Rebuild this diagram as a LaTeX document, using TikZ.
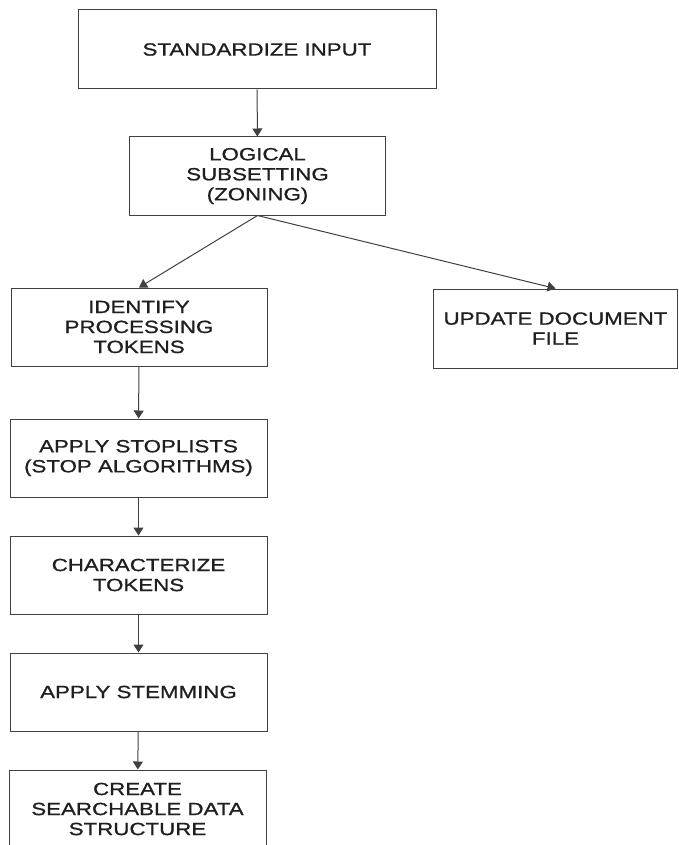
\documentclass[tikz,border=0pt]{standalone}
\usepackage{fontspec}
\setmainfont{Liberation Sans}[FakeStretch=1.26,FakeBold=0.9]
\usetikzlibrary{arrows.meta}

\begin{document}
\begin{tikzpicture}[x=1pt, y=-1pt, >={Triangle[length=8pt,width=10pt]},
  box/.style={draw=black!75, line width=1pt, text=black!88, minimum width=257pt,
    minimum height=78pt, align=center, inner sep=0pt,
    font=\fontsize{17.7}{20}\selectfont}]
\clip (0,0) rectangle (679,845);
\node [box, minimum width=358pt, minimum height=79pt] (standardize) at (257,49.5) {STANDARDIZE INPUT};
\node [box, minimum width=256pt] (zoning) at (257.5,176) {LOGICAL\\SUBSETTING\\(ZONING)};
\node [box, minimum width=256pt] (tokens) at (139,327) {IDENTIFY\\PROCESSING\\TOKENS};
\node [box, minimum width=244pt, minimum height=79pt] (update) at (555.5,328.5) {UPDATE DOCUMENT\\FILE};
\node [box] (stoplists) at (138.5,458) {APPLY STOPLISTS\\(STOP ALGORITHMS)};
\node [box] (characterize) at (138.5,575) {CHARACTERIZE\\TOKENS};
\node [box] (stemming) at (138.5,692) {APPLY STEMMING};
\node [box] (create) at (137.5,809) {CREATE\\SEARCHABLE DATA\\STRUCTURE};
\path [draw, ->, black!75, line width=1pt] (standardize) -- (zoning);
\path [draw, ->, black!75, line width=1pt] (zoning.south) -- (tokens.north);
\path [draw, ->, black!75, line width=1pt] (zoning.south) -- (update.north);
\path [draw, ->, black!75, line width=1pt] (tokens) -- (stoplists);
\path [draw, ->, black!75, line width=1pt] (stoplists) -- (characterize);
\path [draw, ->, black!75, line width=1pt] (characterize) -- (stemming);
\path [draw, ->, black!75, line width=1pt] (stemming) -- (create);
\end{tikzpicture}
\end{document}
